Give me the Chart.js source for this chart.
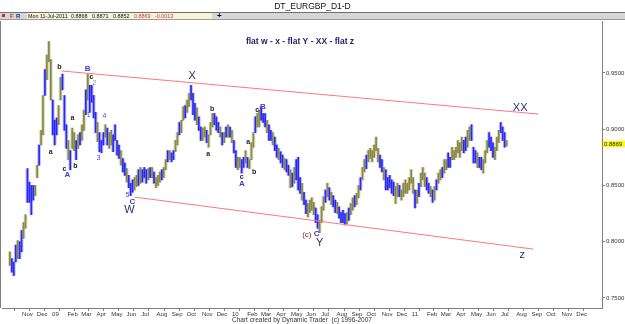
<!DOCTYPE html>
<html lang="en">
<head>
<meta charset="UTF-8" />
<title>DT_EURGBP_D1-D</title>
<script src="https://cdn.jsdelivr.net/npm/chart.js"></script>
<style>
  body { margin: 0; background: #fff; font-family: "Liberation Sans", Arial, sans-serif; }
  #wrap { position: relative; width: 625px; height: 324px; overflow: hidden; }
  #c { position: absolute; left: 0; top: 0; }
  #title { position: absolute; top: 2px; left: 0; width: 625px; text-align: center; font-size: 8.5px; line-height: 9px; color: #111; }
  #rule { position: absolute; top: 12px; left: 0; width: 625px; height: 1px; background: #707070; }
  #bar { position: absolute; top: 13px; left: 0; width: 625px; height: 6px; background: #d6d6d6; border-bottom: 1px solid #9a9a9a; }
  #bar span { position: absolute; top: 0; font-size: 5.4px; line-height: 6px; white-space: nowrap; }
  #info { position: absolute; left: 27px; top: 0; width: 185px; height: 6px; background: #f7f3d6; }
</style>
</head>
<body>
<div id="wrap">
  <canvas id="c" width="625" height="324"></canvas>
  <div id="title">DT_EURGBP_D1-D</div>
  <div id="rule"></div>
  <div id="bar">
    <span style="left:2px;top:1px;width:3px;height:3px;background:#e02020"></span>
    <span style="left:10px;color:#c03030;font-weight:bold;font-size:6px">F</span>
    <span style="left:16px;color:#2030a0;font-weight:bold;font-size:6px">R</span>
    <div id="info"></div>
    <span style="left:217px;font-weight:bold;font-size:8px;line-height:6px">+</span>
  </div>
</div>

<script>
  // header quote line
  const quoteDate = 'Mon 11-Jul-2011';
  const quoteOHLC = [0.8868, 0.8871, 0.8852, 0.8869];
  const quoteChange = -0.0013;

  // month ticks: days since 1 Nov 2008
  const monthTicks = [0, 30, 61, 92, 120, 151, 181, 212, 242, 273, 304, 334, 365, 395, 426, 457, 485, 516, 546,
    577, 607, 638, 669, 699, 730, 760, 791, 822, 850, 881, 911, 942, 972, 1003, 1034, 1064, 1095, 1125];
  const monthLabels = ['Nov', 'Dec', '09', 'Feb', 'Mar', 'Apr', 'May', 'Jun', 'Jul', 'Aug', 'Sep', 'Oct', 'Nov', 'Dec',
    '10', 'Feb', 'Mar', 'Apr', 'May', 'Jun', 'Jul', 'Aug', 'Sep', 'Oct', 'Nov', 'Dec',
    '11', 'Feb', 'Mar', 'Apr', 'May', 'Jun', 'Jul', 'Aug', 'Sep', 'Oct', 'Nov', 'Dec'];
  const priceTicks = [0.75, 0.80, 0.85, 0.90, 0.95];

  // sampled ranges from 7 Oct 2008 to 11 Jul 2011
  const firstDay = -24.7;
  const lastDay = 983.4;
  const highs = [
    .791, .785, .782, .797, .801, .800, .810, .817, .824, .865,
    .853, .850, .850, .850, .868, .886, .899, .930, .953, .966,
    .978, .962, .926, .908, .910, .921, .946, .949, .930, .904,
    .890, .881, .901, .897, .890, .895, .897, .904, .917, .935,
    .949, .939, .939, .930, .915, .906, .897, .890, .897, .904,
    .901, .897, .899, .895, .904, .890, .886, .881, .874, .870,
    .865, .859, .852, .855, .857, .859, .864, .866, .864, .866,
    .864, .865, .866, .866, .862, .857, .859, .862, .864, .866,
    .873, .881, .881, .879, .881, .890, .897, .906, .908, .920,
    .921, .926, .932, .939, .932, .923, .919, .911, .902, .901,
    .902, .899, .895, .906, .914, .914, .911, .906, .902, .897,
    .897, .902, .904, .902, .899, .890, .881, .875, .875, .873,
    .875, .881, .875, .873, .888, .897, .911, .914, .917, .920,
    .914, .914, .908, .904, .899, .897, .893, .886, .883, .880,
    .877, .874, .873, .868, .864, .861, .866, .873, .875, .857,
    .852, .844, .837, .834, .837, .839, .835, .830, .824, .819,
    .831, .840, .846, .852, .848, .844, .841, .837, .835, .831,
    .826, .828, .825, .826, .830, .834, .839, .841, .843, .850,
    .857, .866, .873, .877, .881, .883, .881, .886, .893, .883,
    .877, .873, .866, .864, .857, .859, .855, .853, .849, .852,
    .850, .846, .852, .855, .852, .857, .864, .857, .846, .846,
    .852, .861, .866, .861, .857, .852, .849, .846, .849, .855,
    .861, .864, .866, .873, .873, .879, .875, .884, .881, .884,
    .890, .888, .893, .890, .893, .899, .902, .904, .884, .881,
    .879, .875, .875, .873, .881, .890, .897, .893, .888, .884,
    .893, .899, .906, .902, .897, .890
  ];
  const lows = [
    .779, .773, .770, .782, .785, .785, .791, .803, .812, .835,
    .835, .824, .837, .841, .857, .868, .886, .895, .930, .944,
    .960, .926, .895, .886, .895, .904, .926, .935, .899, .883,
    .873, .864, .883, .881, .873, .883, .886, .890, .899, .913,
    .926, .915, .924, .910, .897, .889, .880, .879, .886, .893,
    .886, .883, .886, .880, .890, .877, .874, .868, .862, .859,
    .853, .848, .841, .844, .846, .849, .850, .852, .853, .857,
    .852, .855, .857, .857, .852, .848, .850, .853, .855, .857,
    .864, .871, .873, .871, .873, .880, .886, .895, .897, .908,
    .910, .915, .920, .926, .913, .908, .904, .899, .890, .890,
    .893, .888, .884, .895, .902, .904, .899, .897, .893, .886,
    .888, .893, .893, .893, .888, .879, .866, .864, .866, .861,
    .866, .870, .866, .865, .873, .884, .897, .902, .902, .908,
    .906, .902, .897, .890, .890, .886, .881, .875, .873, .870,
    .866, .864, .862, .859, .848, .849, .852, .855, .846, .843,
    .837, .833, .825, .822, .826, .828, .824, .817, .812, .808,
    .817, .828, .835, .840, .837, .833, .831, .826, .825, .821,
    .817, .817, .815, .816, .819, .824, .828, .831, .833, .839,
    .846, .855, .862, .865, .871, .874, .871, .875, .881, .871,
    .866, .862, .855, .846, .846, .848, .843, .841, .834, .840,
    .840, .837, .840, .843, .843, .846, .852, .843, .830, .834,
    .840, .849, .855, .849, .846, .843, .840, .835, .837, .846,
    .852, .855, .857, .861, .864, .866, .866, .873, .873, .875,
    .879, .875, .881, .879, .881, .884, .890, .890, .870, .870,
    .866, .866, .864, .861, .870, .879, .884, .881, .875, .873,
    .881, .888, .897, .890, .884, .885
  ];

  // channel lines [day, price]
  const upperChannel = [[80, 0.9518], [1048, 0.9135]];
  const lowerChannel = [[228, 0.8397], [1038, 0.7934]];

  // wave count labels [text, day, price, style]
  const waveLabels = [
    ['b', 76, 0.955, 'lo'], ['B', 133, 0.954, 'up'], ['c', 141, 0.9465, 'lo'], ['2', 147, 0.941, 'num2'],
    ['1', 135, 0.9126, 'num'], ['a', 102, 0.910, 'lo'], ['4', 167, 0.9118, 'num'], ['a', 58, 0.880, 'lo'],
    ['3', 155, 0.8744, 'num'], ['c', 86, 0.8646, 'lo'], ['b', 108, 0.8673, 'lo'], ['A', 92, 0.8592, 'up'],
    ['5', 214, 0.8415, 'num'], ['C', 224, 0.8353, 'up'], ['W', 218, 0.8281, 'big'],
    ['X', 345, 0.9474, 'big'], ['b', 386, 0.918, 'lo'], ['a', 378, 0.8779, 'lo'],
    ['c', 477, 0.917, 'lo'], ['B', 489, 0.9198, 'up'], ['a', 459, 0.8886, 'lo'], ['b', 471, 0.862, 'lo'],
    ['c', 446, 0.8575, 'lo'], ['A', 446, 0.8512, 'up'],
    ['(c)', 578, 0.8058, 'red'], ['C', 598, 0.8067, 'up'], ['Y', 604, 0.7987, 'big'],
    ['XX', 1011, 0.9189, 'big'], ['z', 1015, 0.788, 'big']
  ];
  const chartNote = 'flat w - x - flat Y - XX - flat z';

  const FONT = '"Liberation Sans", Arial, sans-serif';
  const labelStyles = {
    lo: { font: 'bold 7px ' + FONT, color: '#222' },
    up: { font: 'bold 8px ' + FONT, color: '#3c3cdc' },
    num: { font: '7px ' + FONT, color: '#4a4ae0' },
    num2: { font: '7px ' + FONT, color: '#8c8cf0' },
    big: { font: '11px ' + FONT, color: '#2c2c70' },
    red: { font: '8px ' + FONT, color: '#8b2525' }
  };

  const BLUE = 'rgb(40,40,240)';
  const OLIVE = 'rgb(135,135,70)';
  const BLUE_HALO = 'rgba(140,140,255,0.55)';
  const OLIVE_HALO = 'rgba(190,190,140,0.6)';

  // header quote line
  const info = document.getElementById('info');
  const infoItems = [[quoteDate, 1, '#111'], [quoteOHLC[0].toFixed(4), 44, '#111'], [quoteOHLC[1].toFixed(4), 65, '#111'],
    [quoteOHLC[2].toFixed(4), 86, '#111'], [quoteOHLC[3].toFixed(4), 107, '#e03030'], [quoteChange.toFixed(4), 128, '#e03030']];
  infoItems.forEach(([t, left, col]) => {
    const s = document.createElement('span');
    s.textContent = t;
    s.style.left = left + 'px';
    s.style.color = col;
    info.appendChild(s);
  });

  const N = highs.length;
  const days = highs.map((_, i) => firstDay + i * (lastDay - firstDay) / (N - 1));
  // falling samples mostly blue, rising mostly olive, mixed like daily bars
  const isBlue = highs.map((h, i) => {
    if (i === 0) return false;
    const down = (h + lows[i]) < (highs[i - 1] + lows[i - 1]);
    return down !== (i % 3 === 0);
  });
  const bars = days.map((d, i) => ({ x: d, y: [lows[i], highs[i]] }));

  const annot = {
    id: 'annot',
    afterDatasetsDraw(chart) {
      const { ctx, chartArea: a } = chart;
      const x = chart.scales.x, y = chart.scales.y;
      ctx.save();
      ctx.strokeStyle = '#808080';
      ctx.lineWidth = 1;
      ctx.beginPath();
      ctx.moveTo(0.5, a.top);
      ctx.lineTo(0.5, a.bottom);
      ctx.stroke();

      ctx.textAlign = 'center';
      ctx.textBaseline = 'middle';
      waveLabels.forEach(([t, d, p, st]) => {
        ctx.font = labelStyles[st].font;
        ctx.fillStyle = labelStyles[st].color;
        ctx.fillText(t, x.getPixelForValue(d), y.getPixelForValue(p));
      });

      ctx.font = 'bold 8.5px ' + FONT;
      ctx.fillStyle = '#1e1e6e';
      ctx.fillText(chartNote, 300, 42);

      // last price tag
      const py = Math.round(y.getPixelForValue(quoteOHLC[3]));
      ctx.fillStyle = '#ffff00';
      ctx.fillRect(a.right + 1, py - 3, 625 - a.right, 6);
      ctx.fillStyle = '#222';
      ctx.font = '6px ' + FONT;
      ctx.textAlign = 'left';
      ctx.fillText(quoteOHLC[3].toFixed(4), a.right + 2, py);
      ctx.restore();
    }
  };

  new Chart(document.getElementById('c'), {
    type: 'bar',
    data: {
      datasets: [
        {
          type: 'line', order: 0,
          data: upperChannel.map(([d, p]) => ({ x: d, y: p })),
          borderColor: '#ff7878', borderWidth: 1, pointRadius: 0
        },
        {
          type: 'line', order: 0,
          data: lowerChannel.map(([d, p]) => ({ x: d, y: p })),
          borderColor: '#ff7878', borderWidth: 1, pointRadius: 0
        },
        {
          order: 1, grouped: false,
          data: bars,
          backgroundColor: isBlue.map(b => b ? BLUE : OLIVE),
          barThickness: 1
        },
        {
          order: 2, grouped: false,
          data: bars,
          backgroundColor: isBlue.map(b => b ? BLUE_HALO : OLIVE_HALO),
          barThickness: 3
        }
      ]
    },
    options: {
      responsive: false,
      animation: false,
      layout: { padding: { left: 2, top: 21, right: 0, bottom: 0 } },
      plugins: { legend: { display: false }, tooltip: { enabled: false } },
      scales: {
        x: {
          type: 'linear', min: -24.7, max: 1161,
          afterBuildTicks: s => { s.ticks = monthTicks.map(v => ({ value: v })); },
          afterFit: s => { s.height = 16; },
          grid: { drawOnChartArea: false, tickLength: 3, color: '#808080' },
          border: { color: '#808080' },
          ticks: {
            autoSkip: false, maxRotation: 0, align: 'start', padding: 0,
            font: { size: 6, family: FONT }, color: '#333',
            callback: (v, i) => monthLabels[i]
          },
          title: {
            display: true, text: 'Chart created by Dynamic Trader  (c) 1996-2007',
            font: { size: 6.5, family: FONT }, color: '#333', padding: 0
          }
        },
        y: {
          position: 'right', min: 0.7411, max: 0.9962,
          afterBuildTicks: s => { s.ticks = priceTicks.map(v => ({ value: v })); },
          afterFit: s => { s.width = 23; },
          grid: { drawOnChartArea: false, tickLength: 3, color: '#808080' },
          border: { color: '#808080' },
          ticks: { padding: 1, font: { size: 6, family: FONT }, color: '#333', callback: v => v.toFixed(4) }
        }
      }
    },
    plugins: [annot]
  });
</script>
</body>
</html>
